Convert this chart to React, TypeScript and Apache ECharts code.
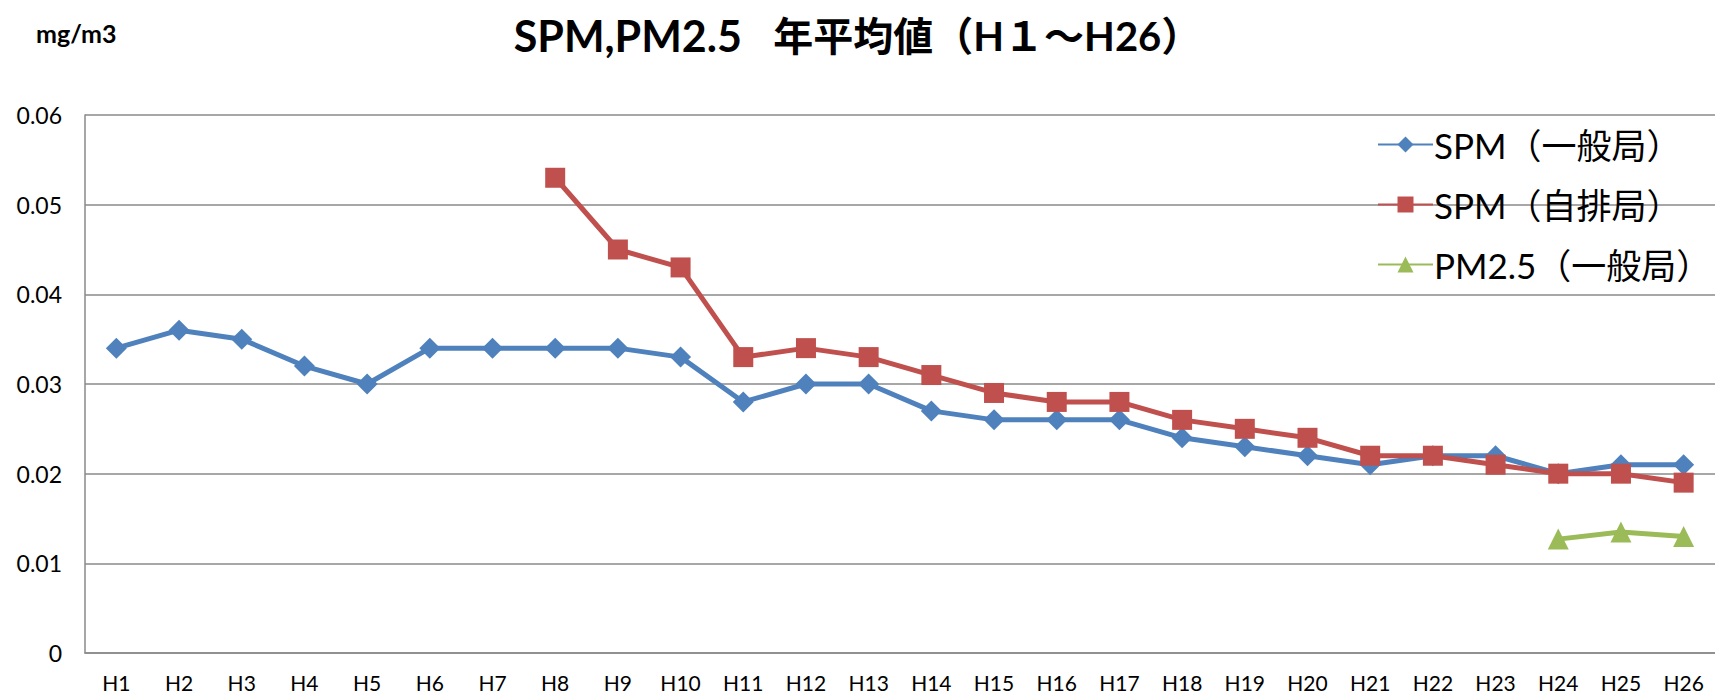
import React, { useEffect, useRef } from "react";
import * as echarts from "echarts";

const categories = [
  "H1", "H2", "H3", "H4", "H5", "H6", "H7", "H8", "H9", "H10",
  "H11", "H12", "H13", "H14", "H15", "H16", "H17", "H18", "H19", "H20",
  "H21", "H22", "H23", "H24", "H25", "H26",
];

const spmGeneral = [
  0.034, 0.036, 0.035, 0.032, 0.030, 0.034, 0.034, 0.034, 0.034, 0.033,
  0.028, 0.030, 0.030, 0.027, 0.026, 0.026, 0.026, 0.024, 0.023, 0.022,
  0.021, 0.022, 0.022, 0.020, 0.021, 0.021,
];

const spmRoadside = [
  null, null, null, null, null, null, null, 0.053, 0.045, 0.043,
  0.033, 0.034, 0.033, 0.031, 0.029, 0.028, 0.028, 0.026, 0.025, 0.024,
  0.022, 0.022, 0.021, 0.020, 0.020, 0.019,
];

const pm25General = [
  null, null, null, null, null, null, null, null, null, null,
  null, null, null, null, null, null, null, null, null, null,
  null, null, null, 0.0127, 0.0135, 0.013,
];

const seriesNames = ["SPM（一般局）", "SPM（自排局）", "PM2.5（一般局）"];
const titleLatin = "SPM,PM2.5   ";
const titleCJK = "年平均値（H１～H26）";
const unitText = "mg/m3";

const FONT = "Lato, 'Noto Sans CJK JP', sans-serif";

export default function App() {
  const ref = useRef<HTMLDivElement>(null);

  useEffect(() => {
    if (!ref.current) return;
    const chart = echarts.init(ref.current, undefined, { renderer: "svg" });
    const gridColor = "#8a8a8a";
    chart.setOption({
      animation: false,
      backgroundColor: "#ffffff",
      title: {
        text: `{a|${titleLatin}}{b|${titleCJK}}`,
        left: "center",
        top: 9,
        textStyle: {
          fontFamily: FONT,
          fontWeight: "bold",
          color: "#000",
          rich: {
            a: { fontFamily: FONT, fontSize: 43, fontWeight: "bold", color: "#000" },
            b: { fontFamily: FONT, fontSize: 40, fontWeight: "bold", color: "#000" },
          },
        },
      },
      graphic: [
        {
          type: "text",
          left: 36,
          top: 20,
          style: { text: unitText, fontFamily: FONT, fontSize: 25, fontWeight: "bold", fill: "#000" },
        },
      ],
      legend: {
        orient: "vertical",
        left: 1372,
        top: 122,
        itemWidth: 55,
        itemHeight: 20,
        itemGap: 25,
        textStyle: { fontFamily: FONT, fontSize: 35, color: "#000", padding: [0, 0, 0, -4] },
        data: seriesNames,
      },
      grid: { left: 85, right: -17, top: 115, bottom: 44, containLabel: false },
      xAxis: {
        type: "category",
        data: categories,
        boundaryGap: true,
        axisLine: { show: true, lineStyle: { color: gridColor, width: 1.5 } },
        axisTick: { show: false },
        axisLabel: {
          fontFamily: FONT,
          fontSize: 21,
          lineHeight: 21,
          color: "#000",
          margin: 19,
          interval: 0,
        },
      },
      yAxis: {
        type: "value",
        min: 0,
        max: 0.06,
        interval: 0.01,
        axisLine: { show: true, lineStyle: { color: gridColor, width: 1.5 } },
        axisTick: { show: false },
        splitLine: { show: true, lineStyle: { color: gridColor, width: 1.5 } },
        axisLabel: { fontFamily: FONT, fontSize: 23, color: "#000", margin: 23 },
      },
      series: [
        {
          name: seriesNames[0],
          type: "line",
          data: spmGeneral,
          symbol: "diamond",
          symbolSize: 21,
          lineStyle: { color: "#4F81BD", width: 5 },
          itemStyle: { color: "#4F81BD" },
          z: 2,
        },
        {
          name: seriesNames[1],
          type: "line",
          data: spmRoadside,
          symbol: "rect",
          symbolSize: 20,
          lineStyle: { color: "#C0504D", width: 5 },
          itemStyle: { color: "#C0504D" },
          z: 3,
        },
        {
          name: seriesNames[2],
          type: "line",
          data: pm25General,
          symbol: "triangle",
          symbolSize: 21,
          lineStyle: { color: "#9BBB59", width: 5 },
          itemStyle: { color: "#9BBB59" },
          z: 4,
        },
      ],
    });
    return () => chart.dispose();
  }, []);

  return (
    <div
      ref={ref}
      style={{ position: "fixed", left: 0, top: 0, width: 1715, height: 697, background: "#fff" }}
    />
  );
}
